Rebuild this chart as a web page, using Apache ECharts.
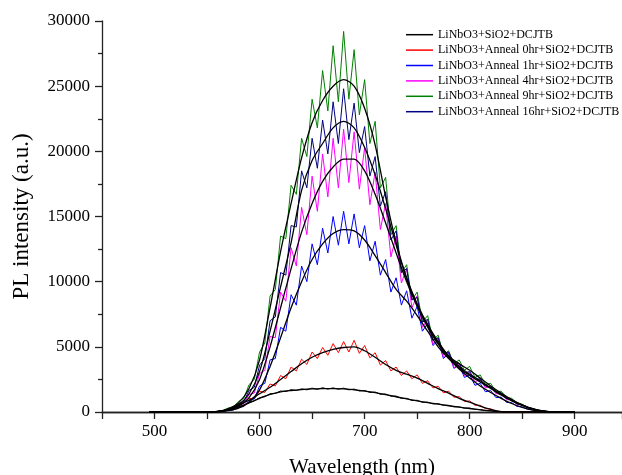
<!DOCTYPE html>
<html>
<head>
<meta charset="utf-8">
<script src="https://cdn.jsdelivr.net/npm/echarts@6/dist/echarts.min.js"></script>
<style>
  html, body { margin: 0; padding: 0; background: #fff; }
  #chart { width: 622px; height: 475px; }
</style>
</head>
<body>
<div id="chart"></div>
<script>
// legend names
const names = [
  'LiNbO3+SiO2+DCJTB',
  'LiNbO3+Anneal 0hr+SiO2+DCJTB',
  'LiNbO3+Anneal 1hr+SiO2+DCJTB',
  'LiNbO3+Anneal 4hr+SiO2+DCJTB',
  'LiNbO3+Anneal 9hr+SiO2+DCJTB',
  'LiNbO3+Anneal 16hr+SiO2+DCJTB'
];
const colors = ['#000000', '#ff0000', '#0000ff', '#ff00ff', '#008000', '#000080'];

// wavelengths of the raw (noisy) spectra
const wlNoise = [560,565,570,575,580,585,590,595,600,605,610,615,620,625,630,635,640,645,650,655,
  660,665,670,675,680,685,690,695,700,705,710,715,720,725,730,735,740,745,750,755,
  760,765,770,775,780,785,790,795,800,805,810,815,820,825,830,835,840,845,850,855,
  860,865,870,875,880];

const rawBase = [40,70,170,240,410,510,740,860,1100,1170,1400,1430,1610,1570,1710,1650,1780,1700,1830,1740,
  1860,1760,1850,1750,1830,1700,1760,1610,1650,1500,1530,1360,1380,1210,1220,1040,1050,880,900,740,
  760,620,640,510,510,390,400,290,300,200,190,110,100,40,25,0,0,0,0,0,0,0,0,0,0];
const raw0hr = [10,60,250,300,650,640,1050,1020,1600,1500,2150,2000,2800,2550,3450,3150,4050,3650,4600,4100,
  4950,4350,5250,4550,5400,4600,5500,4500,5100,4150,4550,3600,3950,3150,3450,2800,3150,2550,2850,2200,
  2400,1850,1980,1470,1600,1130,1180,800,850,520,520,260,240,70,40,0,0,0,0,0,0,0,0,0,0];
const raw1hr = [25,40,120,150,360,420,900,1000,2000,2200,4000,4100,6500,6200,9000,8200,11200,10000,12900,11300,
  14100,12200,15000,12800,15400,12900,15200,12600,14300,11600,13100,10500,11700,9200,10300,8200,9300,7200,8100,6200,
  6800,5100,5500,4100,4500,3350,3600,2650,2850,2050,2200,1550,1650,1100,1150,740,720,430,390,210,170,60,45,10,0];
const raw4hr = [40,60,180,240,540,640,1350,1450,2950,3200,5800,5700,9200,8500,12600,11200,15700,13600,18100,15400,
  19800,16500,21000,17200,21700,17600,21500,17100,20300,15900,18400,14000,16000,11900,13500,9900,11000,8000,8900,6500,
  7100,5200,5700,4200,4600,3400,3700,2800,3050,2300,2500,1850,1950,1400,1400,950,920,580,540,310,240,100,70,20,0];
const raw9hr = [60,110,300,400,820,1050,2100,2500,4600,5300,8900,9400,13500,13300,17400,16700,21000,19600,24000,21800,
  26200,23100,28100,23800,29200,24000,27800,22800,25500,20600,22300,17200,18000,13600,14300,10700,11300,8600,9200,6900,
  7400,5500,5900,4400,4700,3700,4000,3200,3500,2650,2850,2100,2200,1550,1600,1080,1050,680,600,360,280,130,90,30,0];
const raw16hr = [50,80,240,310,640,800,1650,1900,3600,4100,7000,7300,10700,10500,14300,14200,18500,17200,21000,18700,
  22400,19800,23800,20600,24800,20900,23700,19900,21900,18100,19600,15800,16900,13200,13900,10700,11000,8600,8800,6900,
  7100,5500,5700,4500,4600,3650,3750,3000,3100,2500,2550,1980,1950,1500,1430,1030,950,650,550,340,250,120,70,20,0];

// wavelengths of the smoothed (fitted) black curves
const wlFit = [495,500,510,520,530,540,550,560,570,580,590,600,610,620,630,640,650,660,670,680,
  690,700,710,720,730,740,750,760,770,780,790,800,810,820,830,840,850,860,870,880,890,900];

const fitBase = [0,0,0,0,0,0,0,30,150,380,700,1050,1350,1550,1650,1720,1770,1800,1800,1780,
  1700,1600,1480,1330,1170,1000,850,720,600,480,370,270,170,90,20,0,0,0,0,0,0,0];
const fit0hr = [0,0,0,0,0,0,0,0,200,550,900,1400,1900,2500,3100,3700,4200,4550,4800,4950,
  5000,4700,4200,3650,3200,2900,2600,2200,1800,1450,1050,750,450,200,30,0,0,0,0,0,0,0];
const fit1hr = [0,0,0,0,0,0,0,20,100,300,750,1700,3500,5700,8000,10000,11700,12900,13700,14000,
  13900,13200,12000,10700,9400,8500,7400,6200,5000,4100,3300,2600,2000,1500,1050,650,350,150,40,0,0,0];
const fit4hr = [0,0,0,0,0,0,0,30,150,450,1100,2500,5000,8000,11000,13800,16000,17700,18800,19400,
  19400,18500,16700,14500,12200,10000,8100,6500,5200,4200,3400,2800,2300,1800,1300,850,500,220,60,0,0,0];
const fit9hr = [0,0,0,0,0,0,0,50,250,700,1800,4000,8000,12300,16000,19500,22200,23900,25000,25500,
  25000,23300,20500,16500,13000,10300,8300,6700,5400,4300,3700,3200,2600,2000,1450,950,550,250,80,0,0,0];
const fit16hr = [0,0,0,0,0,0,0,40,200,550,1400,3100,6200,9600,13000,17000,19300,20600,21800,22300,
  21800,20300,18200,15600,12800,10200,8200,6600,5300,4300,3500,2900,2400,1850,1350,900,520,230,70,0,0,0];

const rawList = [rawBase, raw0hr, raw1hr, raw4hr, raw9hr, raw16hr];
const fitList = [fitBase, fit0hr, fit1hr, fit4hr, fit9hr, fit16hr];

const series = [];
rawList.forEach((arr, k) => {
  series.push({
    name: names[k],
    type: 'line',
    data: wlNoise.map((w, i) => [w, arr[i]]),
    showSymbol: false,
    lineStyle: { color: colors[k], width: 1 },
    itemStyle: { color: colors[k] },
    z: 2
  });
});
fitList.forEach((arr, k) => {
  series.push({
    name: 'fit' + k,
    type: 'line',
    data: wlFit.map((w, i) => [w, arr[i]]),
    showSymbol: false,
    smooth: 0.3,
    lineStyle: { color: '#000', width: 1.3 },
    itemStyle: { color: '#000' },
    z: 3
  });
});

const serif = 'Liberation Serif';
const axisColor = '#222';
const chart = echarts.init(document.getElementById('chart'));
chart.setOption({
  animation: false,
  textStyle: { fontFamily: serif },
  grid: { left: 102, top: 21, bottom: 63, right: 0, outerBoundsMode: 'none' },
  legend: {
    data: names.map(n => ({ name: n, icon: 'rect' })),
    orient: 'vertical',
    left: 401,
    top: 23,
    itemWidth: 27,
    itemHeight: 1.5,
    itemGap: 2,
    textStyle: { fontFamily: serif, fontSize: 12, color: '#000', lineHeight: 13.4 }
  },
  xAxis: [{
    type: 'value',
    min: 450,
    max: 945,
    interval: 50,
    name: 'Wavelength (nm)',
    nameLocation: 'middle',
    nameGap: 45,
    nameTextStyle: { fontFamily: serif, fontSize: 21, color: '#000' },
    axisLine: { onZero: false, lineStyle: { color: axisColor, width: 1.3 } },
    axisTick: { length: 7, lineStyle: { color: axisColor, width: 1.3 } },
    axisLabel: {
      fontFamily: serif, fontSize: 17, color: '#000', margin: 11,
      formatter: v => (v % 100 === 0 ? String(v) : '')
    },
    splitLine: { show: false }
  }, {
    type: 'value',
    position: 'top',
    min: 450,
    max: 945,
    axisLine: { show: true, lineStyle: { color: axisColor, width: 1.3 } },
    axisTick: { show: false },
    axisLabel: { show: false },
    splitLine: { show: false }
  }],
  yAxis: {
    type: 'value',
    min: 0,
    max: 30000,
    interval: 5000,
    name: 'PL intensity (a.u.)',
    nameLocation: 'middle',
    nameGap: 69,
    nameTextStyle: { fontFamily: serif, fontSize: 23, color: '#000' },
    axisLine: { show: true, lineStyle: { color: axisColor, width: 1.3 } },
    axisTick: { show: true, length: 7, lineStyle: { color: axisColor, width: 1.3 } },
    minorTick: { show: true, splitNumber: 2, length: 4, lineStyle: { color: axisColor, width: 1.3 } },
    axisLabel: { fontFamily: serif, fontSize: 17, color: '#000', margin: 12, formatter: v => String(v) },
    splitLine: { show: false }
  },
  series: series
});
</script>
</body>
</html>
